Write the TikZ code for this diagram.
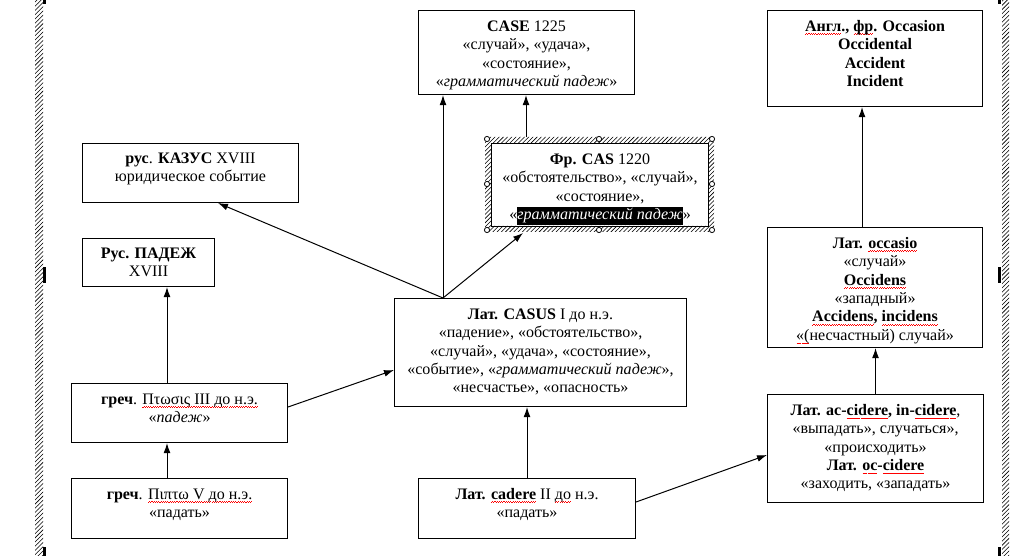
\documentclass[tikz,border=0pt]{standalone}
\usepackage{fontspec}
\setmainfont{Liberation Serif}
\usetikzlibrary{positioning,calc,arrows.meta,patterns}
\setlength{\fboxsep}{0pt}
\newsavebox\spellbox
\newcommand\spell[1]{\leavevmode\sbox\spellbox{#1}\rlap{\textcolor{red}{\lower2.6pt\hbox to\wd\spellbox{\xleaders\hbox{\rule{0.8pt}{0.45pt}\raisebox{0.5pt}{\rule{0.8pt}{0.45pt}}}\hfill}}}\usebox\spellbox}
\begin{document}
\begin{tikzpicture}[x=0.025cm,y=-0.025cm,
  box/.style={draw,line width=0.025cm,anchor=north west,inner sep=0pt},
  txt/.style={anchor=north,inner sep=0pt,align=center,font=\fontsize{11.4pt}{13.1pt}\selectfont},
  link/.style={line width=0.025cm,-{Latex[length=0.25cm,width=0.17cm]}},
  grip/.style={draw,fill=white,line width=0.02cm}]
\useasboundingbox (0,0) rectangle (1032,556);
\fill[white] (0,0) rectangle (1032,556);%

% Drawing page frame strips
\fill[pattern=north east lines] (35,0) rectangle (43,556);%
\fill[pattern=north east lines] (1002,0) rectangle (1009,556);%
\fill (43,0) rectangle (46,4);%
\fill (43,267) rectangle (46,283);%
\fill (43,547) rectangle (46,556);%
\fill (998,0) rectangle (1001,4);%
\fill (998,267) rectangle (1001,283);%
\fill (998,547) rectangle (1001,556);%

% Drawing box CASE
\node[box,minimum width=5.4cm,minimum height=2.1cm] (case) at (418,10) {};%
\node[txt,below=0.2cm of case.north] (caseT) {\strut\textbf{CASE} 1225\\«случай», «удача»,\\«состояние»,\\«\textit{грамматический падеж}»};%

% Drawing box CAS
\node[box,minimum width=5.425cm,minimum height=2.075cm] (cas) at (491,143) {};%
\node[txt,below=0.2cm of cas.north] (casT) {\strut\textbf{Фр. CAS} 1220\\«обстоятельство», «случай»,\\«состояние»,\\«\colorbox{black}{\strut\textcolor{white}{\itshape грамматический падеж}}»};%

% Drawing box KAZUS
\node[box,minimum width=5.4cm,minimum height=1.475cm] (kazus) at (82,143) {};%
\node[txt,below=0.18cm of kazus.north] (kazusT) {\strut\textbf{рус}. \textbf{КАЗУС} XVIII\\юридическое событие};%

% Drawing box PADEZH
\node[box,minimum width=3.3cm,minimum height=1.2cm] (padezh) at (82,238) {};%
\node[txt,below=0.18cm of padezh.north] (padezhT) {\strut\textbf{Рус. ПАДЕЖ}\\XVIII};%

% Drawing box Ptosis
\node[box,minimum width=5.4cm,minimum height=1.475cm] (ptosis) at (71,383) {};%
\node[txt,below=0.2cm of ptosis.north] (ptosisT) {\strut\textbf{греч}. \spell{Πτωσις III до н.э.}\\«\textit{падеж}»};%

% Drawing box Pipto
\node[box,minimum width=5.4cm,minimum height=1.5cm] (pipto) at (71,478) {};%
\node[txt,below=0.2cm of pipto.north] (piptoT) {\strut\textbf{греч}. \spell{Πιπτω V до н.э.}\\«падать»};%

% Drawing box CASUS
\node[box,minimum width=7.3cm,minimum height=2.7cm] (casus) at (394,298) {};%
\node[txt,below=0.2cm of casus.north] (casusT) {\strut\textbf{Лат. CASUS} I до н.э.\\«падение», «обстоятельство»,\\«случай», «удача», «состояние»,\\«событие», «\textit{грамматический падеж}»,\\«несчастье», «опасность»};%

% Drawing box cadere
\node[box,minimum width=5.425cm,minimum height=1.5cm] (cadere) at (418,478) {};%
\node[txt,below=0.2cm of cadere.north] (cadereT) {\strut\textbf{Лат. \spell{cadere}} II \spell{до} н.э.\\«падать»};%

% Drawing box ac-cidere
\node[box,minimum width=5.4cm,minimum height=2.7cm] (accid) at (767,394) {};%
\node[txt,below=0.2cm of accid.north] (accidT) {\strut\textbf{Лат. ac-\spell{cidere}, in-\spell{cidere}},\\«выпадать», случаться»,\\«происходить»\\\textbf{Лат. \spell{oc}-\spell{cidere}}\\«заходить, «западать»};%

% Drawing box occasio
\node[box,minimum width=5.375cm,minimum height=3cm] (occasio) at (767,227) {};%
\node[txt,below=0.2cm of occasio.north] (occasioT) {\strut\textbf{Лат. \spell{occasio}}\\«случай»\\\textbf{\spell{Occidens}}\\«западный»\\\textbf{\spell{Accidens}, \spell{incidens}}\\\spell{«(}несчастный) случай»};%

% Drawing box Occasion
\node[box,minimum width=5.375cm,minimum height=2.4cm] (occasion) at (767,10) {};%
\node[txt,below=0.2cm of occasion.north] (occasionT) {\strut\textbf{\spell{Англ}., \spell{фр}. Occasion}\\\textbf{Occidental}\\\textbf{Accident}\\\textbf{Incident}};%

% Marking arrow ends
\coordinate (casusTop) at ($(casus.north west)+(49,0)$);%
\coordinate (casIn) at ($(cas.south west)+(32,6)$);%
\coordinate (casOut) at ($(cas.north west)+(35,-6)$);%
\coordinate (kazusIn) at ($(kazus.south west)+(136,0)$);%
\coordinate (ptosisTop) at ($(ptosis.north west)+(96,0)$);%
\coordinate (ptosisOut) at ($(ptosis.north east)+(0,24)$);%
\coordinate (casusIn) at ($(casus.north west)+(0,72)$);%
\coordinate (piptoTop) at ($(pipto.north west)+(96,0)$);%
\coordinate (cadereOut) at ($(cadere.north east)+(0,24)$);%
\coordinate (accidIn) at ($(accid.north west)+(0,61)$);%
\coordinate (occasioTop) at ($(occasio.north west)+(95,0)$);%

% Drawing arrows
\draw[link] (casusTop) -- (casusTop |- case.south);%
\draw[link] (casOut) -- (casOut |- case.south);%
\draw[link] (casusTop) -- (kazusIn);%
\draw[link] (casusTop) -- (casIn);%
\draw[link] (ptosisTop) -- (ptosisTop |- padezh.south);%
\draw[link] (piptoTop) -- (piptoTop |- ptosis.south);%
\draw[link] (ptosisOut) -- (casusIn);%
\draw[link] (cadere.north) -- (cadere.north |- casus.south);%
\draw[link] (cadereOut) -- (accidIn);%
\draw[link] (accid.north) -- (accid.north |- occasio.south);%
\draw[link] (occasioTop) -- (occasioTop |- occasion.south);%

% Drawing selection frame of CAS
\fill[pattern=north east lines,even odd rule] (485,137) rectangle (714,232) (491,143) rectangle (708,226);%
\foreach \gx in {487,599,712}
  \foreach \gy in {139,230}
    \draw[grip] (\gx,\gy) circle[radius=0.065cm];%
\draw[grip] (487,184) circle[radius=0.065cm];%
\draw[grip] (712,184) circle[radius=0.065cm];%
\end{tikzpicture}
\end{document}
